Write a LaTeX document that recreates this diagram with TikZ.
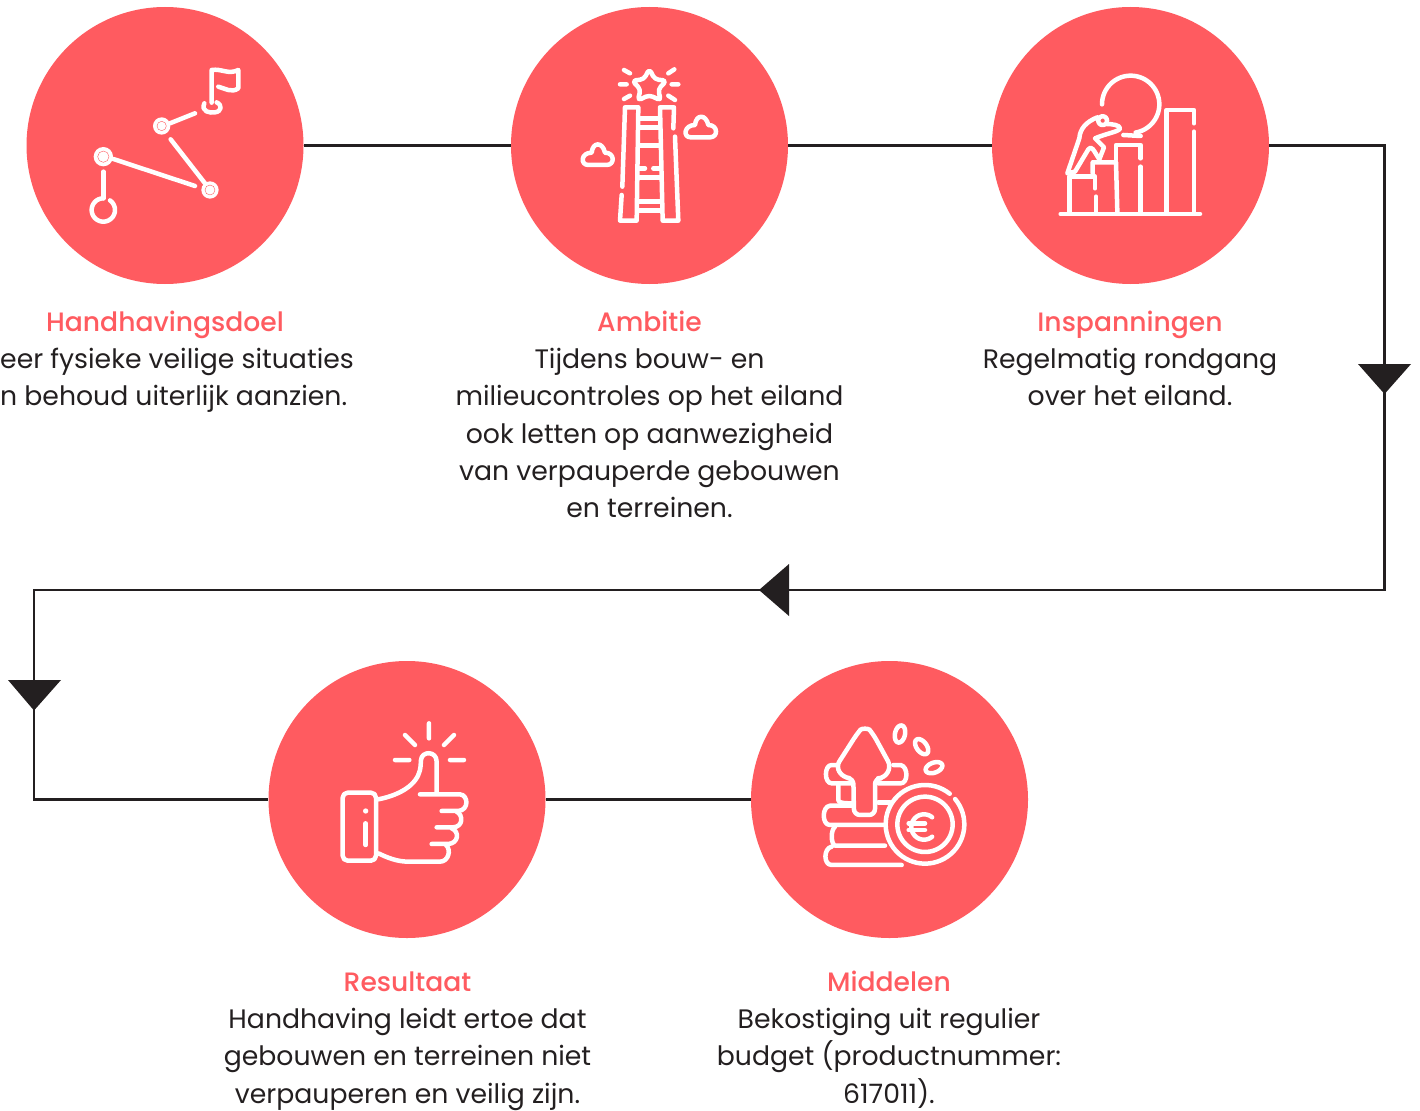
\documentclass[tikz,border=0pt]{standalone}
\usepackage{fontspec}
\setmainfont{Poppins}
\newfontfamily\medfont{Poppins Medium}
\usetikzlibrary{calc}
\definecolor{coral}{HTML}{FF5B60}
\definecolor{ink}{HTML}{231F20}
\newcommand{\iarc}[5]{\draw plot[domain=#4:#5,samples=60] ({#1+#3*cos(\x)},{#2+#3*sin(\x)});}
\newcommand{\ioval}[5]{\draw plot[domain=0:360,samples=50] ({#1+#3*cos(\x)*cos(#5)-#4*sin(\x)*sin(#5)},{#2+#3*cos(\x)*sin(#5)+#4*sin(\x)*cos(#5)});}
\tikzset{
 disc/.style={circle,fill=coral,draw=none,minimum size=277pt,inner sep=0pt},
 flow/.style={draw=ink,line width=2.6pt},
 tip/.style={fill=ink,draw=none},
 title/.style={text=coral,font=\medfont\fontsize{26.6}{37.3}\selectfont,inner sep=0pt,anchor=base},
 body/.style={text=ink,font=\fontsize{26.7}{37.3}\selectfont,inner sep=0pt,align=center,anchor=base},
 icon/.style={shift={(#1)},x=0.3333pt,y=-0.3333pt,white,line width=4.5pt,line cap=round,line join=round},
}
\begin{document}
\begin{tikzpicture}[x=1pt,y=-1pt]
\useasboundingbox (0,0) rectangle (1420,1110);
\node[disc] (doel) at (165,145.5) {};
\node[disc] (amb) at (649.5,145.5) {};
\node[disc] (insp) at (1130.5,145.5) {};
\node[disc] (res) at (407,799.5) {};
\node[disc] (mid) at (889.5,799.5) {};
\coordinate (c1) at (1384.5,145.5);
\coordinate (c2) at (1384.5,590);
\coordinate (c3) at (34,590);
\coordinate (c4) at (34,799.5);
\draw[flow] (doel) -- (amb);
\draw[flow] (amb) -- (insp);
\draw[flow] (insp.east) -- (c1) -- (c2) -- (c3) -- (c4) -- (res.west);
\draw[flow] (res) -- (mid);
\fill[tip] (1358,364) -- (1411,364) -- (1384.5,394) -- cycle;
\fill[tip] (789,564) -- (789,616) -- (759,590) -- cycle;
\fill[tip] (8,680) -- (61,680) -- (34,710.5) -- cycle;
% texts
\node[title] (t1) at (165,331) {Handhavingsdoel};
\node[body,anchor=north west,align=left] (b1) at (0,348) {eer fysieke veilige situaties\\n behoud uiterlijk aanzien.};
\node[title] (t2) at (649.5,331) {Ambitie};
\node[body,anchor=north] (b2) at (649.5,348) {Tijdens bouw- en\\milieucontroles op het eiland\\ook letten op aanwezigheid\\van verpauperde gebouwen\\en terreinen.};
\node[title] (t3) at (1130,331) {Inspanningen};
\node[body,anchor=north] (b3) at (1130,348) {Regelmatig rondgang\\over het eiland.};
\node[title] (t4) at (407.5,991) {Resultaat};
\node[body,anchor=north] (b4) at (407.5,1008) {Handhaving leidt ertoe dat\\gebouwen en terreinen niet\\verpauperen en veilig zijn.};
\node[title] (t5) at (889,991) {Middelen};
\node[body,anchor=north] (b5) at (889,1008) {Bekostiging uit regulier\\budget (productnummer:\\617011).};
% icon 1
\begin{scope}[icon={70,50}]
\fill[white] (100,320) circle[radius=29];
\fill[white] (275,228) circle[radius=26];
\fill[white] (420,420) circle[radius=26];
\draw[coral,line width=0.4pt] (100,320) circle[radius=17] (275,228) circle[radius=14] (420,420) circle[radius=15];
\draw (130,327) -- (375,408);
\draw (302,268) -- (405,400);
\draw (300,220) -- (375,190);
\draw (100,365) -- (100,445);
\iarc{100}{480}{35}{-55}{270}
\draw (425,158) -- (425,60) .. controls (455,55) and (475,75) .. (505,60) -- (505,115) .. controls (485,130) and (465,115) .. (445,110);
\draw (403,160) .. controls (392,185) and (420,190) .. (435,187) .. controls (455,185) and (458,165) .. (440,157);
\end{scope}
% icon 2
\begin{scope}[icon={560,50}]
\draw[rounded corners=4pt] (268,56) -- (284,88) -- (320,92) -- (294,118) -- (303,152) -- (268,135) -- (233,152) -- (242,118) -- (216,92) -- (252,88) -- cycle;
\draw (192,60) -- (210,70) (180,103) -- (200,103) (192,147) -- (210,137) (325,70) -- (343,58) (335,103) -- (355,103) (325,137) -- (345,150);
\draw (187,410) -- (195,172) -- (235,172) -- (230,512) -- (180,512) -- (185,435);
\draw (340,235) -- (342,172) -- (300,172) -- (308,512) -- (355,512) -- (345,260);
\draw (235,205) -- (300,205) (235,232) -- (300,232) (235,287) -- (300,287) (235,355) -- (255,355) (280,355) -- (300,355) (235,382) -- (302,382) (232,455) -- (305,455) (232,482) -- (305,482);
\draw (392,262) -- (450,262) .. controls (475,262) and (475,225) .. (445,225) .. controls (438,192) and (408,192) .. (405,225) .. controls (372,225) and (368,262) .. (392,262);
\draw (85,345) -- (140,345) .. controls (165,345) and (165,308) .. (135,308) .. controls (128,275) and (98,275) .. (95,308) .. controls (62,308) and (60,345) .. (85,345);
\end{scope}
% icon 3
\begin{scope}[icon={1040,60}]
\draw (62,462) -- (480,462);
\draw (88,455) -- (88,350) -- (165,350) -- (165,385) (168,410) -- (168,455);
\draw (158,340) -- (158,307) -- (228,307) -- (232,455);
\draw (228,300) -- (228,255) -- (302,255) -- (302,295) (302,320) -- (302,455);
\draw (380,455) -- (380,150) -- (462,150) -- (462,190) (462,215) -- (462,455);
\iarc{272}{133}{86}{180}{440}
\draw (250,225) -- (302,228);
\iarc{188}{182}{13}{0}{360}
\draw (172,172) .. controls (140,185) and (120,205) .. (118,235) -- (82,340) -- (105,335) -- (145,268) .. controls (155,255) and (160,270) .. (178,298) -- (192,262) -- (165,235) .. controls (200,220) and (238,215) .. (240,205) .. controls (240,195) and (215,192) .. (200,192);
\end{scope}
% icon 4
\begin{scope}[icon={320,710}]
\draw (327,40) -- (327,85) (255,75) -- (285,105) (402,75) -- (372,105) (225,150) -- (268,150) (390,150) -- (432,150);
\draw[rounded corners=5pt] (68,248) rectangle (168,452);
\fill[white] (137,303) circle[radius=8];
\draw (137,340) -- (137,405);
\draw (175,268) .. controls (240,255) and (290,225) .. (300,180) .. controls (303,165) and (302,155) .. (303,150) .. controls (305,122) and (350,122) .. (350,155) -- (350,245);
\draw (300,253) -- (420,253) .. controls (445,255) and (448,300) .. (415,303) -- (365,303);
\draw (410,305) .. controls (430,315) and (430,350) .. (400,352) -- (350,352);
\draw (395,355) .. controls (420,365) and (415,400) .. (385,402) -- (335,402);
\draw (378,405) .. controls (395,420) and (385,455) .. (360,455) -- (265,455) .. controls (230,455) and (200,442) .. (175,430);
\end{scope}
% icon 5
\begin{scope}[icon={810,715}]
\draw[rounded corners=6pt] (132,300) -- (130,190) -- (100,188) -- (78,155) -- (140,58) .. controls (155,40) and (175,40) .. (190,58) -- (243,155) -- (222,190) -- (195,190) -- (195,300) -- cycle;
\draw (80,150) -- (65,150) .. controls (42,150) and (42,205) .. (65,205) -- (125,205);
\draw (250,150) -- (272,150) .. controls (295,155) and (295,205) .. (272,205) -- (205,205);
\draw (85,210) -- (85,255) .. controls (85,262) and (95,265) .. (125,265);
\draw (205,262) -- (240,262);
\draw (130,272) -- (60,272) .. controls (35,275) and (35,330) .. (60,330) -- (225,330);
\draw (75,335) .. controls (62,345) and (62,385) .. (75,392) -- (225,392);
\draw (65,395) .. controls (40,400) and (40,450) .. (65,450) -- (275,450);
\iarc{345}{328}{118}{-40}{309}
\iarc{345}{328}{83}{0}{360}
\iarc{342}{336}{38}{50}{310}
\draw (296,325) -- (345,325) (296,345) -- (345,345);
\ioval{270}{57}{15}{26}{12}
\ioval{335}{95}{15}{26}{-37}
\ioval{372}{158}{15}{26}{70}
\end{scope}
\end{tikzpicture}
\end{document}
